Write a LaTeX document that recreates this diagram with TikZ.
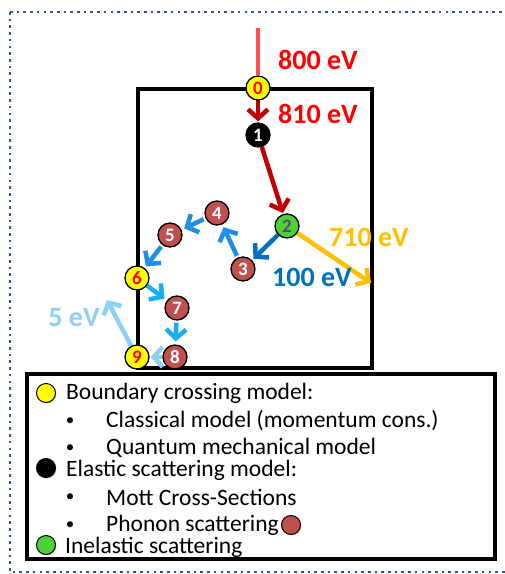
\documentclass[tikz,border=0pt]{standalone}
\usepackage{fontspec}
\setmainfont{Carlito}
\usetikzlibrary{arrows.meta,backgrounds,shadows}
\definecolor{frameblue}{HTML}{2F5597}
\definecolor{darkred}{HTML}{C00000}
\definecolor{lightred}{HTML}{FF5050}
\definecolor{brownred}{HTML}{C0504D}
\definecolor{gold}{HTML}{FFC000}
\definecolor{midblue}{HTML}{0070C0}
\definecolor{skyblue}{HTML}{1F8FE5}
\definecolor{cyanblue}{HTML}{1AAEF0}
\definecolor{paleblue}{HTML}{8ED1F7}
\definecolor{numpurple}{HTML}{604A7B}
\definecolor{ballgreen}{HTML}{4CD137}
\definecolor{ballyellow}{HTML}{FFFF00}
\tikzset{
  ball/.style={circle, draw=black, line width=1.3pt, minimum size=24pt, inner sep=0pt,
    font=\bfseries\fontsize{19}{19}\selectfont},
  yball/.style={ball, fill=ballyellow, text=red},
  kball/.style={ball, fill=black, text=white},
  gball/.style={ball, fill=ballgreen, text=numpurple},
  rball/.style={ball, fill=brownred, text=white},
  lball/.style={circle, draw=black, line width=1pt, minimum size=19pt, inner sep=0pt,
    drop shadow={shadow xshift=1pt, shadow yshift=-1pt, opacity=0.3}},
  arr/.style={line width=4.5pt, -{Straight Barb[length=9pt, width=20pt, line width=4.5pt]}, shorten >=1pt},
  elabel/.style={font=\bfseries\fontsize{28}{28}\selectfont, inner sep=0pt},
  ltext/.style={font=\fontsize{23.5}{23.5}\selectfont, anchor=west, inner sep=0pt},
  lbullet/.style={font=\fontsize{17}{17}\selectfont, inner sep=0pt},
}
\begin{document}
\begin{tikzpicture}[x=1pt,y=-1pt]
\useasboundingbox (0,0) rectangle (505,574);
% outer dotted frame
\draw[frameblue, line width=2.6pt, dash pattern=on 2.6pt off 4.1pt] (10,12) -- (510,12);
\draw[frameblue, line width=2.6pt, dash pattern=on 2.6pt off 4.1pt] (10,12) -- (10,572) -- (510,572);
% balls
\node[yball] (n0) at (258,88) {0};
\node[kball] (n1) at (258,135) {1};
\node[gball] (n2) at (287,226) {2};
\node[rball] (n3) at (243,269) {3};
\node[rball] (n4) at (217,213) {4};
\node[rball] (n5) at (170,235) {5};
\node[yball] (n6) at (137,278) {6};
\node[rball] (n7) at (177,308) {7};
\node[rball] (n8) at (175,357) {8};
\node[yball] (n9) at (137,357) {9};
\coordinate (top) at (258,28);
\coordinate (outR) at (371,283);
\coordinate (out9) at (107,300);
% main box and arrows, behind the balls
\begin{pgfonlayer}{background}
\draw[line width=4pt, fill=white, drop shadow={shadow xshift=2pt, shadow yshift=-2pt, opacity=0.3}] (138,89) rectangle (372,368);
\draw[lightred, line width=3.5pt] (top) -- (n0.north);
\draw[darkred, arr, shorten <=-4pt] (n0) -- (n1);
\draw[darkred, arr] (n1) -- (n2);
\draw[gold, arr, shorten >=0pt] (n2) -- (outR);
\draw[midblue, arr, shorten >=2pt] (n2) -- (n3);
\draw[skyblue, arr, shorten >=3pt, shorten <=2pt] (n3) -- (n4);
\draw[skyblue, arr, shorten >=3pt, shorten <=2pt] (n4) -- (n5);
\draw[skyblue, arr, shorten >=2pt, shorten <=2pt] (n5) -- (n6);
\draw[cyanblue, arr, shorten >=3pt] (n6) -- (n7);
\draw[cyanblue, arr, shorten >=3pt, shorten <=2pt] (n7) -- (n8);
\draw[paleblue, arr, shorten >=1pt] (n8) -- (n9);
\draw[paleblue, arr, shorten >=0pt] (n9) -- (out9);
\end{pgfonlayer}
% energy labels
\node[elabel, text=red] (e800) at (318,60) {800 eV};
\node[elabel, text=red] (e810) at (318,114) {810 eV};
\node[elabel, text=gold] (e710) at (369,237) {710 eV};
\node[elabel, text=midblue] (e100) at (312,277) {100 eV};
\node[elabel, text=paleblue] (e5) at (74,318) {5 eV};
% legend box
\draw[line width=4.5pt, fill=white, drop shadow={shadow xshift=2pt, shadow yshift=-2pt, opacity=0.35}] (27,374) rectangle (495,559);
\node[lball, fill=ballyellow] (l0) at (46,393) {};
\node[ltext] (t0) at (66,393) {Boundary crossing model:};
\node[lbullet] (b1) at (70,422) {•};
\node[ltext] (t1) at (106,421) {Classical model (momentum cons.)};
\node[lbullet] (b2) at (70,449) {•};
\node[ltext] (t2) at (106,448) {Quantum mechanical model};
\node[lball, fill=black] (l1) at (46,468) {};
\node[ltext] (t3) at (66,470) {Elastic scattering model:};
\node[lbullet] (b3) at (70,498) {•};
\node[ltext] (t4) at (106,497) {Mott Cross-Sections};
\node[lbullet] (b4) at (70,526) {•};
\node[ltext] (t5) at (106,525) {Phonon scattering};
\node[lball, fill=brownred] (l3) at (291,525) {};
\node[lball, fill=ballgreen] (l2) at (46,545) {};
\node[ltext] (t6) at (65,547) {Inelastic scattering};
\end{tikzpicture}
\end{document}
